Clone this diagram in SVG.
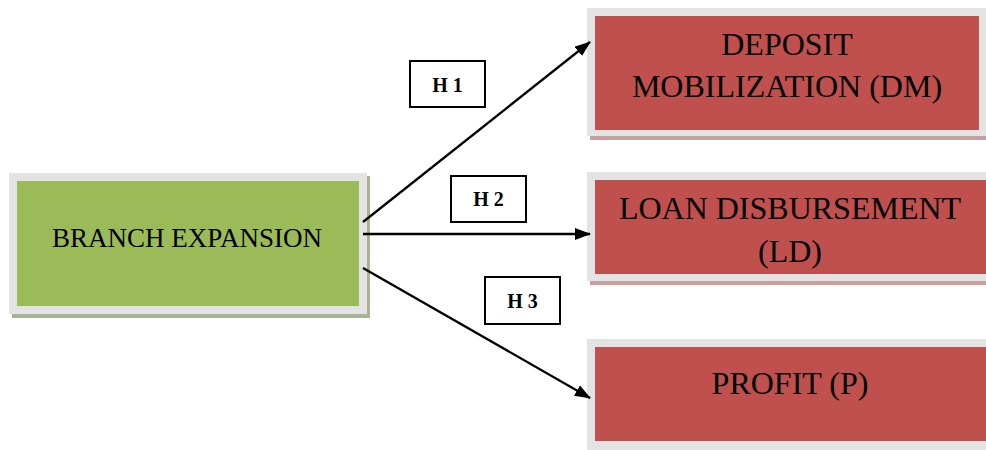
<svg xmlns="http://www.w3.org/2000/svg" width="986" height="450" viewBox="0 0 986 450">
<defs>
<marker id="ah" markerWidth="16" markerHeight="12" refX="15" refY="6" orient="auto" markerUnits="userSpaceOnUse">
<path d="M0,0 L16,6 L0,12 Z" fill="#000"/>
</marker>
</defs>
<style>
.frame{fill:#e3e3e3}
.gsh{fill:#aab295}
.rsh{fill:#c8a0a0}
.green{fill:#9bbb59}
.red{fill:#c0504d}
.t{font-family:"Liberation Serif","Times New Roman",serif;fill:#000;text-anchor:middle}
.big{font-size:32px}
.mid{font-size:27px}
.hb{fill:#fff;stroke:#000;stroke-width:2}
.ht{font-family:"Liberation Serif","Times New Roman",serif;font-weight:bold;font-size:20px;text-anchor:middle}
.conn{stroke:#000;stroke-width:2.3;fill:none;marker-end:url(#ah)}
</style>
<rect width="986" height="450" fill="#fff"/>
<g id="branch">
<rect class="gsh" x="12" y="176" width="358" height="142"/>
<rect class="frame" x="9" y="173" width="358" height="141"/>
<rect class="green" x="17" y="181" width="342" height="125"/>
<text class="t mid" x="187" y="247">BRANCH EXPANSION</text>
</g>
<g id="dm">
<rect class="rsh" x="590" y="11" width="400" height="129"/>
<rect class="frame" x="587" y="8" width="400" height="128"/>
<rect class="red" x="595" y="16" width="384" height="114"/>
<text class="t big" x="787" y="55">DEPOSIT</text>
<text class="t big" x="787" y="97">MOBILIZATION (DM)</text>
</g>
<g id="ld">
<rect class="rsh" x="590" y="175" width="400" height="110"/>
<rect class="frame" x="587" y="172" width="400" height="109"/>
<rect class="red" x="595" y="180" width="395" height="94"/>
<text class="t big" x="790" y="219">LOAN DISBURSEMENT</text>
<text class="t big" x="790" y="262">(LD)</text>
</g>
<g id="profit">
<rect class="frame" x="587" y="339" width="400" height="111"/>
<rect class="red" x="595" y="347" width="395" height="94"/>
<text class="t big" x="790" y="394">PROFIT (P)</text>
</g>
<g id="connectors">
<line class="conn" x1="363" y1="222" x2="590" y2="42"/>
<line class="conn" x1="363" y1="234" x2="590" y2="234"/>
<line class="conn" x1="363" y1="268" x2="590" y2="398"/>
</g>
<g id="h1">
<rect class="hb" x="410" y="61" width="75" height="46"/>
<text class="ht" x="447.5" y="92">H 1</text>
</g>
<g id="h2">
<rect class="hb" x="451" y="176" width="75" height="46"/>
<text class="ht" x="488.5" y="206">H 2</text>
</g>
<g id="h3">
<rect class="hb" x="485" y="277" width="75" height="47"/>
<text class="ht" x="522.5" y="308">H 3</text>
</g>
</svg>
